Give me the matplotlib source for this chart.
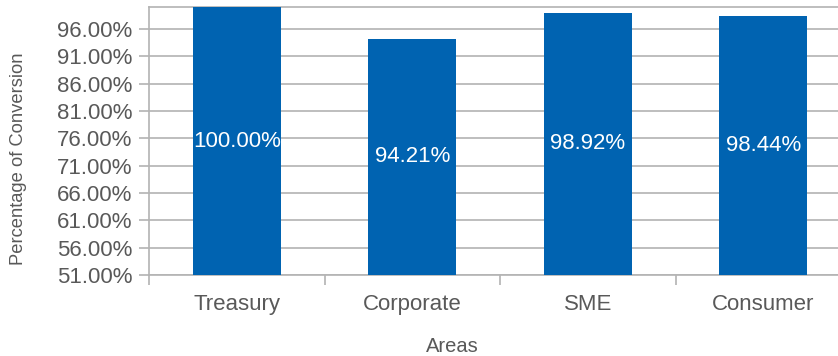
import matplotlib
matplotlib.use("Agg")
import matplotlib.pyplot as plt
from matplotlib.ticker import FixedLocator, NullFormatter

plt.rcParams['font.family'] = ['Liberation Sans', 'DejaVu Sans']

areas = ['Treasury', 'Corporate', 'SME', 'Consumer']
conversion = [100.00, 94.21, 98.92, 98.44]
yticks = [51, 56, 61, 66, 71, 76, 81, 86, 91, 96]

bar_color = '#0063b1'
text_color = '#595959'
grid_color = '#b3b3b3'

W, H = 838, 356
fig = plt.figure(figsize=(W / 100, H / 100), dpi=100)
# right edge of the plot runs past the image edge in the reference
ax = fig.add_axes([149 / W, 1 - 275 / H, 702 / W, 268 / H])

x = list(range(len(areas)))
bars = ax.bar(x, conversion, width=0.5, color=bar_color, zorder=3)

ax.set_xlim(-0.5, len(areas) - 0.5)
ax.set_ylim(51, 100)
ax.set_yticks(yticks)
ax.set_yticklabels(['%.2f%%' % v for v in yticks])
ax.yaxis.grid(True, color=grid_color, linewidth=1.2, zorder=0)

ax.set_xticks(x)
ax.set_xticklabels(areas)
ax.tick_params(axis='x', length=0, pad=14, labelsize=16, labelcolor=text_color)
ax.xaxis.set_minor_locator(FixedLocator([i - 0.5 for i in range(len(areas) + 1)]))
ax.xaxis.set_minor_formatter(NullFormatter())
ax.tick_params(axis='x', which='minor', length=7, width=1.2, color=grid_color)
ax.tick_params(axis='y', length=7, width=1.2, color=grid_color, labelsize=16,
               labelcolor=text_color, pad=5)

for side in ['left', 'bottom', 'top']:
    ax.spines[side].set_color(grid_color)
    ax.spines[side].set_linewidth(1.2)
ax.spines['right'].set_visible(False)

for b, v in zip(bars, conversion):
    ax.text(b.get_x() + b.get_width() / 2, (51 + v) / 2, '%.2f%%' % v,
            ha='center', va='center', color='white', fontsize=16, zorder=4)

# axis titles sit at their own spots in the reference, not centred on the axes
fig.text(452 / W, 1 - 346 / H, 'Areas', fontsize=14.5, color=text_color,
         ha='center', va='center')
fig.text(19 / W, 1 - 159 / H, 'Percentage of Conversion', fontsize=13.2,
         color=text_color, rotation=90, ha='center', va='center')

fig.savefig('out.png', dpi=100)
